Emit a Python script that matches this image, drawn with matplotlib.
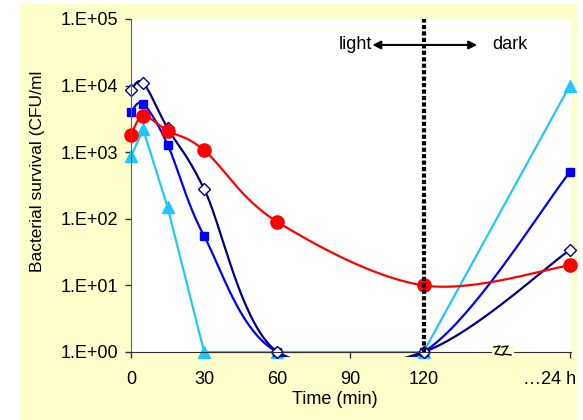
import numpy as np
import matplotlib.pyplot as plt
import matplotlib.transforms as mtransforms
from matplotlib.patches import Rectangle
from matplotlib.lines import Line2D

# data (x = minutes, 180 stands for the 24 h point)
time_min = [0, 5, 15, 30, 60, 120, 180]
navy_open = [8600, 11000, 2300, 280, 1, 1, 34]
blue_sq = [4000, 5300, 1300, 55, 1, 1, 500]
cyan_tri = [870, 2200, 150, 1, 1, 1, 10000]
red_dot = [1800, 3500, 2100, 1070, 90, 10, 20]

xtick_pos = [0, 30, 60, 90, 120, 180]
xtick_lab = ['0', '30', '60', '90', '120', '…24 h']
ytick_pos = [1, 10, 100, 1e3, 1e4, 1e5]
ytick_lab = ['1.E+00', '1.E+01', '1.E+02', '1.E+03', '1.E+04', '1.E+05']

plt.rcParams['font.family'] = ['Liberation Sans', 'DejaVu Sans']
W, H = 583, 420
YELLOW = '#FFFFCC'

# Excel-like smoothed line (bezier through the points, in pixel space)
SX, SY = 2.44, 66.6
def smooth(x, y, n=40):
    pts = np.column_stack([np.asarray(x, float) * SX, np.log10(y) * SY])
    out = [pts[0]]
    t = np.linspace(0, 1, n)[1:, None]
    for i in range(len(pts) - 1):
        p0 = pts[max(i - 1, 0)]
        p1, p2 = pts[i], pts[i + 1]
        p3 = pts[min(i + 2, len(pts) - 1)]
        c1 = p1 + (p2 - p0) / 6
        c2 = p2 - (p3 - p1) / 6
        seg = (1-t)**3*p1 + 3*(1-t)**2*t*c1 + 3*(1-t)*t**2*c2 + t**3*p2
        out.extend(seg)
    out = np.array(out)
    return out[:, 0] / SX, 10 ** (out[:, 1] / SY)

fig = plt.figure(figsize=(W/100, H/100), dpi=100)
fig.patch.set_facecolor('white')
fig.add_artist(Rectangle((20/W, 0), 558/W, 1 - 4/H, transform=fig.transFigure,
                         facecolor=YELLOW, edgecolor='none', zorder=-10))

ax = fig.add_axes([131/W, 68/H, 440/W, 333/H])
ax.set_facecolor('white')
ax.set_yscale('log')
ax.set_ylim(1, 1e5)
ax.set_xlim(0, 180.5)

clip = Rectangle((0, -0.015), 1.0, 1.03, transform=ax.transAxes)

series = [
    (cyan_tri, '#1EC8FF', '^', 8, '#1EC8FF', False),
    (blue_sq, '#0000FF', 's', 5.5, '#0000FF', True),
    (navy_open, '#000080', 'D', 6.5, 'white', True),
    (red_dot, '#FF0000', 'o', 9.5, '#FF0000', True),
]
for vals, col, mk, ms, fc, sm in series:
    if sm:
        xs, ys = smooth(time_min, vals)
    else:
        xs, ys = time_min, vals
    ln, = ax.plot(xs, ys, color=col, lw=1.6)
    ln.set_clip_path(clip)
    ax.plot(time_min, vals, ls='none', marker=mk, ms=ms, mfc=fc, mec=col,
            mew=1.0, clip_on=False)

# light / dark divider
ax.axvline(120, color='black', lw=3, ls=(0, (1.0, 0.55)), zorder=10)
ax.annotate('', xy=(99, 0.922), xytext=(142, 0.922),
            xycoords=('data', 'axes fraction'),
            arrowprops=dict(arrowstyle='<|-|>', color='black', lw=1.5,
                            mutation_scale=12, shrinkA=0, shrinkB=0))
ax.text(99, 0.922, 'light', transform=ax.get_xaxis_transform(),
        ha='right', va='center', fontsize=13)
ax.text(148, 0.922, 'dark', transform=ax.get_xaxis_transform(),
        ha='left', va='center', fontsize=13)

ax.spines['top'].set_visible(False)
ax.spines['right'].set_visible(False)
ax.spines['left'].set_color('#606060')
ax.spines['bottom'].set_color('#303030')
ax.set_yticks(ytick_pos)
ax.set_yticklabels(ytick_lab)
ax.yaxis.set_minor_locator(plt.NullLocator())
ax.set_xticks(xtick_pos)
ax.set_xticklabels(xtick_lab)
ax.tick_params(axis='both', direction='out', length=4.5, width=1,
               color='#303030', labelsize=13)
ax.tick_params(axis='y', pad=5)
ax.tick_params(axis='x', pad=9)
# the last label sits left of its tick, like the reference
last = ax.get_xticklabels()[-1]
last.set_transform(last.get_transform() +
                   mtransforms.ScaledTranslation(-0.2, 0, fig.dpi_scale_trans))

# axis break mark on the x axis
fig.add_artist(Rectangle((492/W, 1 - 359/H), 22/W, 14/H, transform=fig.transFigure,
                         facecolor=YELLOW, edgecolor='none', zorder=20))
for dx in (0, 8):
    zx = np.array([494, 500, 495, 503]) + dx
    zy = np.array([347, 346, 354, 355])
    fig.add_artist(Line2D(zx / W, 1 - zy / H, transform=fig.transFigure,
                          color='black', lw=1, zorder=21))

fig.text(335/W, 1 - 400/H, 'Time (min)', ha='center', va='center', fontsize=13)
fig.text(38/W, 1 - 171/H, 'Bacterial survival (CFU/ml', rotation=90,
         ha='center', va='center', fontsize=12.5)

fig.savefig('out.png', dpi=100)
